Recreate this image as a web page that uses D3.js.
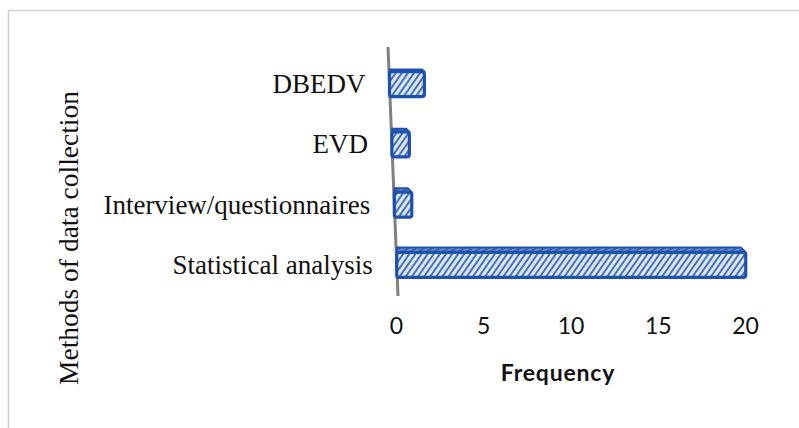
<!DOCTYPE html>
<html>
<head>
<meta charset="utf-8">
<script src="https://cdn.jsdelivr.net/npm/d3@7"></script>
<style>
  body { margin: 0; background: #fff; }
  svg { display: block; }
</style>
</head>
<body>
<div id="chart"></div>
<script>
var categories = ['DBEDV', 'EVD', 'Interview/questionnaires', 'Statistical analysis'];
var values = [2, 1, 1, 20];
var xTicks = [0, 5, 10, 15, 20];

var width = 799, height = 428;
var blue = '#1c52ad';

var svg = d3.select('#chart')
    .append('svg')
    .attr('width', width)
    .attr('height', height);

// frame (cut off at right and bottom)
svg.append('path')
    .attr('d', 'M8.5,428 L8.5,10.5 L799,10.5')
    .attr('fill', 'none')
    .attr('stroke', '#d0d0d0')
    .attr('stroke-width', 1.5);

var defs = svg.append('defs');

var hatch = defs.append('pattern')
    .attr('id', 'hatch')
    .attr('patternUnits', 'userSpaceOnUse')
    .attr('width', 5)
    .attr('height', 5)
    .attr('patternTransform', 'rotate(35)');
hatch.append('rect').attr('width', 5).attr('height', 5).attr('fill', '#dfe8f7');
hatch.append('line')
    .attr('x1', 1).attr('y1', 0).attr('x2', 1).attr('y2', 5)
    .attr('stroke', '#3565bd').attr('stroke-width', 1.8);

var hatchTop = defs.append('pattern')
    .attr('id', 'hatchTop')
    .attr('patternUnits', 'userSpaceOnUse')
    .attr('width', 4)
    .attr('height', 4)
    .attr('patternTransform', 'rotate(60)');
hatchTop.append('rect').attr('width', 4).attr('height', 4).attr('fill', '#3c66b2');
hatchTop.append('line')
    .attr('x1', 1).attr('y1', 0).attr('x2', 1).attr('y2', 4)
    .attr('stroke', '#a9bee4').attr('stroke-width', 1);

// scales
var x = d3.scaleLinear().domain([0, 20]).range([396, 745]);
var y = d3.scalePoint().domain(categories).range([54, 295]).padding(0.5);
// the value axis leans a little: x position of the axis line at a given y
var slant = d3.scaleLinear().domain([47, 296]).range([388, 398]);
// 3d top face gets deeper toward the bottom
var depth = d3.scaleLinear().domain([84, 265]).range([2, 5]);

var barH = 25;

// axis line
svg.append('line')
    .attr('x1', slant(47)).attr('y1', 47)
    .attr('x2', slant(296)).attr('y2', 296)
    .attr('stroke', '#808080')
    .attr('stroke-width', 3);

var bars = svg.selectAll('.bar')
    .data(categories)
    .enter().append('g')
    .attr('class', 'bar');

bars.append('path')
    .attr('d', function(d, i) {
        var x0 = slant(y(d)), x1 = x0 + x(values[i]) - x(0);
        var y0 = y(d) - barH / 2, dp = depth(y(d));
        return 'M' + x0 + ',' + y0 + ' L' + x0 + ',' + (y0 - dp) +
            ' L' + (x1 - dp) + ',' + (y0 - dp) + ' L' + x1 + ',' + y0 + 'Z';
    })
    .attr('fill', 'url(#hatchTop)')
    .attr('stroke', blue)
    .attr('stroke-width', 2)
    .attr('stroke-linejoin', 'round');

bars.append('rect')
    .attr('x', function(d) { return slant(y(d)); })
    .attr('y', function(d) { return y(d) - barH / 2; })
    .attr('width', function(d, i) { return x(values[i]) - x(0); })
    .attr('height', barH)
    .attr('rx', 2.5)
    .attr('fill', 'url(#hatch)')
    .attr('stroke', blue)
    .attr('stroke-width', 3.2);

// category labels
svg.selectAll('.cat')
    .data(categories)
    .enter().append('text')
    .attr('class', 'cat')
    .attr('x', function(d) { return slant(y(d)) - 24; })
    .attr('y', function(d) { return y(d) + 9; })
    .attr('text-anchor', 'end')
    .style('font-family', '"Liberation Serif", "Times New Roman", serif')
    .style('font-size', '27px')
    .style('fill', '#111')
    .text(function(d) { return d; });

// x axis tick labels
var xAxis = svg.append('g')
    .attr('transform', 'translate(0,318)')
    .call(d3.axisBottom(x).tickValues(xTicks).tickSize(0).tickPadding(0));
xAxis.select('.domain').remove();
xAxis.selectAll('text')
    .attr('dy', '0.71em')
    .style('font-family', 'Lato, "Liberation Sans", sans-serif')
    .style('font-size', '23px')
    .style('fill', '#111');

svg.append('text')
    .attr('x', 558)
    .attr('y', 381)
    .attr('text-anchor', 'middle')
    .style('font-family', 'Lato, "Liberation Sans", sans-serif')
    .style('font-weight', 'bold')
    .style('font-size', '23px')
    .style('letter-spacing', '0.8px')
    .style('fill', '#111')
    .text('Frequency');

svg.append('text')
    .attr('transform', 'translate(78,238) rotate(-90)')
    .attr('text-anchor', 'middle')
    .style('font-family', '"Liberation Serif", "Times New Roman", serif')
    .style('font-size', '27.5px')
    .style('fill', '#111')
    .text('Methods of data collection');
</script>
</body>
</html>
